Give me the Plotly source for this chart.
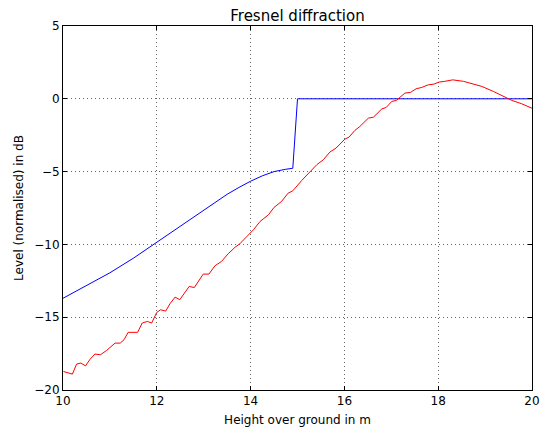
import plotly.graph_objects as go

# Blue: theoretical curve
blue_x = [10.0, 10.5, 11.0, 11.5, 12.0, 12.5, 13.0, 13.25, 13.5, 13.75, 14.0, 14.25, 14.5, 14.75, 14.9, 15.0, 20.0]
blue_y = [-13.7, -12.85, -11.95, -10.95, -9.85, -8.72, -7.6, -7.07, -6.56, -6.09, -5.66, -5.29, -5.0, -4.84, -4.77, 0.0, 0.0]

# Red: computed curve with ripple
red_x = [10.01, 10.20, 10.29, 10.38, 10.48, 10.58, 10.68, 10.80, 10.93, 11.11, 11.22, 11.30,
         11.39, 11.59, 11.69, 11.80, 11.89, 12.0, 12.08, 12.19, 12.28, 12.39, 12.49, 12.69,
         12.80, 12.99, 13.11, 13.24, 13.38, 13.52, 13.67, 13.77, 13.92, 14.06, 14.2, 14.38,
         14.50, 14.66, 14.80, 14.90, 15.09, 15.27, 15.41, 15.55, 15.69, 15.82, 16.01, 16.10,
         16.22, 16.33, 16.51, 16.62, 16.8, 16.89, 17.01, 17.11, 17.22, 17.29, 17.41, 17.53,
         17.65, 17.79, 17.91, 18.02, 18.14, 18.31, 18.54, 18.75, 18.93, 19.18, 19.39, 19.57,
         19.78, 20.0]
red_y = [-18.73, -18.91, -18.22, -18.15, -18.34, -17.88, -17.53, -17.58, -17.28, -16.78, -16.78, -16.55,
         -16.04, -16.04, -15.4, -15.29, -15.4, -14.67, -14.49, -14.58, -14.08, -13.62, -13.8, -12.89,
         -12.96, -12.04, -12.04, -11.47, -11.17, -10.65, -10.19, -9.96, -9.46, -9.0, -8.43, -7.97,
         -7.46, -7.05, -6.48, -6.32, -5.61, -4.99, -4.53, -4.19, -3.66, -3.39, -2.77, -2.63,
         -2.18, -1.90, -1.33, -1.26, -0.69, -0.60, -0.18, -0.11, 0.21, 0.39, 0.44, 0.69,
         0.78, 0.96, 1.01, 1.15, 1.20, 1.30, 1.20, 1.03, 0.85, 0.5, 0.16, -0.11,
         -0.34, -0.65]

x_ticks = [10, 12, 14, 16, 18, 20]
y_ticks = [-20, -15, -10, -5, 0, 5]

fig = go.Figure()
fig.add_trace(go.Scatter(x=blue_x, y=blue_y, mode="lines", line_shape="linear",
                         line=dict(color="#0000ff", width=1), showlegend=False))
fig.add_trace(go.Scatter(x=red_x, y=red_y, mode="lines",
                         line=dict(color="#ff0000", width=1), showlegend=False))

font = dict(family="DejaVu Sans", size=12, color="black")
axis_common = dict(
    showline=True, linecolor="black", linewidth=1, mirror="allticks",
    ticks="inside", ticklen=4, tickcolor="black", tickwidth=1,
    showgrid=True, gridcolor="#666666", griddash="1px,3px", gridwidth=1,
    zeroline=False, tickfont=font, title_font=font, automargin=False,
)

fig.update_layout(
    width=543, height=428,
    margin=dict(l=63, r=11, t=26, b=38),
    paper_bgcolor="white", plot_bgcolor="white",
    font=font,
    title=dict(text="Fresnel diffraction", x=(63 + 532) / 2 / 543, xanchor="center",
               yref="container", y=1 - 16 / 428, yanchor="middle",
               font=dict(family="DejaVu Sans", size=15, color="black")),
    xaxis=dict(range=[10, 20], tickvals=x_ticks, ticktext=[str(v) for v in x_ticks],
               title=dict(text="Height over ground in m", standoff=8), **axis_common),
    yaxis=dict(range=[-20, 5], tickvals=y_ticks,
               ticktext=[("\u2212" + str(-v)) if v < 0 else str(v) for v in y_ticks],
               title=dict(text="Level (normalised) in dB", standoff=8), **axis_common),
)

fig.write_html("out.html")
